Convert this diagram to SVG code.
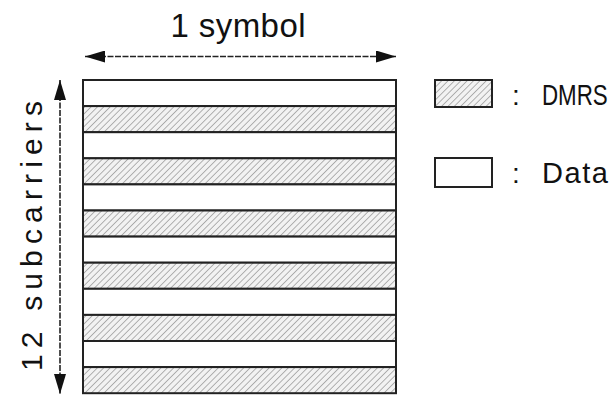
<svg xmlns="http://www.w3.org/2000/svg" width="616" height="396" viewBox="0 0 616 396">
<style>
.txt{font-family:"Liberation Sans",Arial,sans-serif;fill:#111}
.box{stroke:#222;stroke-width:2}
.dm{fill:url(#hatch)}
.da{fill:#fff}
.ax{stroke:#222;stroke-width:1.6;stroke-dasharray:6 1.5;fill:none}
</style>
<defs>
<pattern id="hatch" width="4.5" height="4.5" patternUnits="userSpaceOnUse" patternTransform="rotate(45)">
<rect width="4.5" height="4.5" fill="#f2f2f2"/>
<line x1="0" y1="0" x2="0" y2="4.5" stroke="#7a7a7a" stroke-width="1.1"/>
</pattern>
<marker id="ah" viewBox="0 0 20 12" refX="20" refY="6" markerWidth="20" markerHeight="12" markerUnits="userSpaceOnUse" orient="auto-start-reverse">
<path d="M0,0 L20,6 L0,12 Z" fill="#111"/>
</marker>
</defs>
<rect width="616" height="396" fill="#fff"/>
<g id="grid">
<rect class="box da" x="83" y="80" width="313" height="26.1"/>
<rect class="box dm" x="83" y="106.1" width="313" height="26.1"/>
<rect class="box da" x="83" y="132.2" width="313" height="26.1"/>
<rect class="box dm" x="83" y="158.3" width="313" height="26.1"/>
<rect class="box da" x="83" y="184.4" width="313" height="26.1"/>
<rect class="box dm" x="83" y="210.5" width="313" height="26.1"/>
<rect class="box da" x="83" y="236.6" width="313" height="26.1"/>
<rect class="box dm" x="83" y="262.7" width="313" height="26.1"/>
<rect class="box da" x="83" y="288.8" width="313" height="26.1"/>
<rect class="box dm" x="83" y="314.9" width="313" height="26.1"/>
<rect class="box da" x="83" y="341" width="313" height="26.1"/>
<rect class="box dm" x="83" y="367.1" width="313" height="26.1"/>
</g>
<g id="connectors">
<line class="ax" x1="85" y1="56.5" x2="396" y2="56.5" marker-start="url(#ah)" marker-end="url(#ah)"/>
<line class="ax" x1="60" y1="80" x2="60" y2="394" marker-start="url(#ah)" marker-end="url(#ah)"/>
</g>
<g id="label-symbol">
<text class="txt" x="238" y="37" font-size="33" text-anchor="middle" textLength="135" lengthAdjust="spacing">1 symbol</text>
</g>
<g id="label-subcarriers">
<text class="txt" transform="translate(42,236) rotate(-90)" x="0" y="0" font-size="30" text-anchor="middle" textLength="270" lengthAdjust="spacing">12 subcarriers</text>
</g>
<g id="legend-dmrs">
<rect class="box dm" x="435" y="80" width="57" height="27"/>
<text class="txt" x="512" y="105" font-size="28">:</text>
<text class="txt" transform="translate(542,105) scale(0.77,1)" x="0" y="0" font-size="29">DMRS</text>
</g>
<g id="legend-data">
<rect class="box da" x="435" y="158" width="57" height="29"/>
<text class="txt" x="512" y="183" font-size="28">:</text>
<text class="txt" x="542" y="183" font-size="29" textLength="66" lengthAdjust="spacing">Data</text>
</g>
</svg>
